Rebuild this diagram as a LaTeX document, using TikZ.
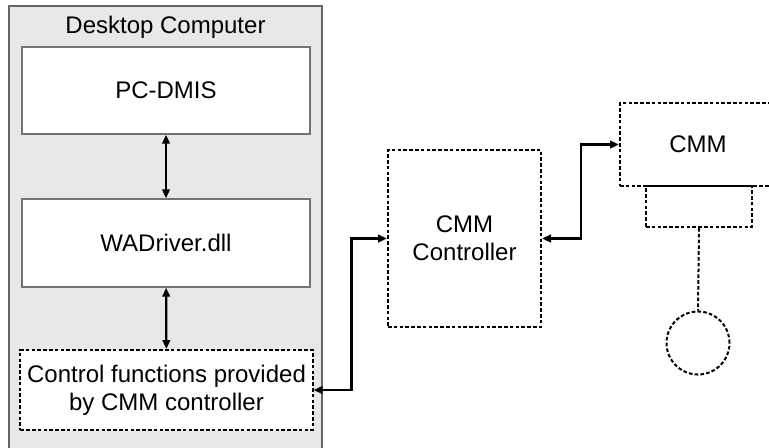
\documentclass[tikz,border=0pt]{standalone}
\usepackage{fontspec}
\setmainfont{Liberation Sans}
\usetikzlibrary{arrows.meta,positioning}

\begin{document}
\begin{tikzpicture}[x=0.5pt, y=-0.5pt,
    font=\fontsize{12}{14}\selectfont,
    >={Triangle[length=4.5pt,width=3.8pt]},
    softbox/.style={draw=black!55, line width=0.7pt, fill=white, align=center},
    hwbox/.style={draw, line width=1pt, dash pattern=on 1.8pt off 1.1pt, align=center},
    link/.style={<->, line width=1.1pt}]
  \useasboundingbox (0,0) rectangle (769,447);
  \clip (0,0) rectangle (769,447);
  % desktop computer
  \draw[black!60, line width=1pt, fill=black!9] (9,6) rectangle (322,460);
  \node (pc) at (165.5,27) {Desktop Computer};
  \node[softbox, minimum width=144pt, minimum height=43.5pt] (dmis) at (166,90.5) {PC-DMIS};
  \node[softbox, minimum width=144pt, minimum height=44pt] (drv) at (166,243) {WADriver.dll};
  \node[hwbox, fill=white, minimum width=144.5pt, minimum height=40pt] (ctlfn) at (166.5,390)
    {Control functions provided\\by CMM controller};
  % controller and machine
  \node[hwbox, minimum width=76.5pt, minimum height=88.5pt] (ctrl) at (464.5,238.5) {CMM\\Controller};
  \node[hwbox, minimum width=78pt, minimum height=41.5pt] (cmm) at (698,144.5) {CMM};
  \node[hwbox, minimum width=53pt, minimum height=20.5pt] (head) at (699,206.5) {};
  \node[hwbox, circle, minimum size=31.5pt, inner sep=0pt] (probe) at (698,343) {};
  \draw[hwbox] (head.south) -- (probe.north);
  % connections
  \draw[link] (dmis) -- (drv);
  \draw[link] (drv) -- (ctlfn);
  \draw[link] (ctlfn.east) -- ++(38,0) |- (ctrl.west);
  \draw[link] (ctrl.east) -- ++(39,0) |- (cmm.west);
\end{tikzpicture}
\end{document}
